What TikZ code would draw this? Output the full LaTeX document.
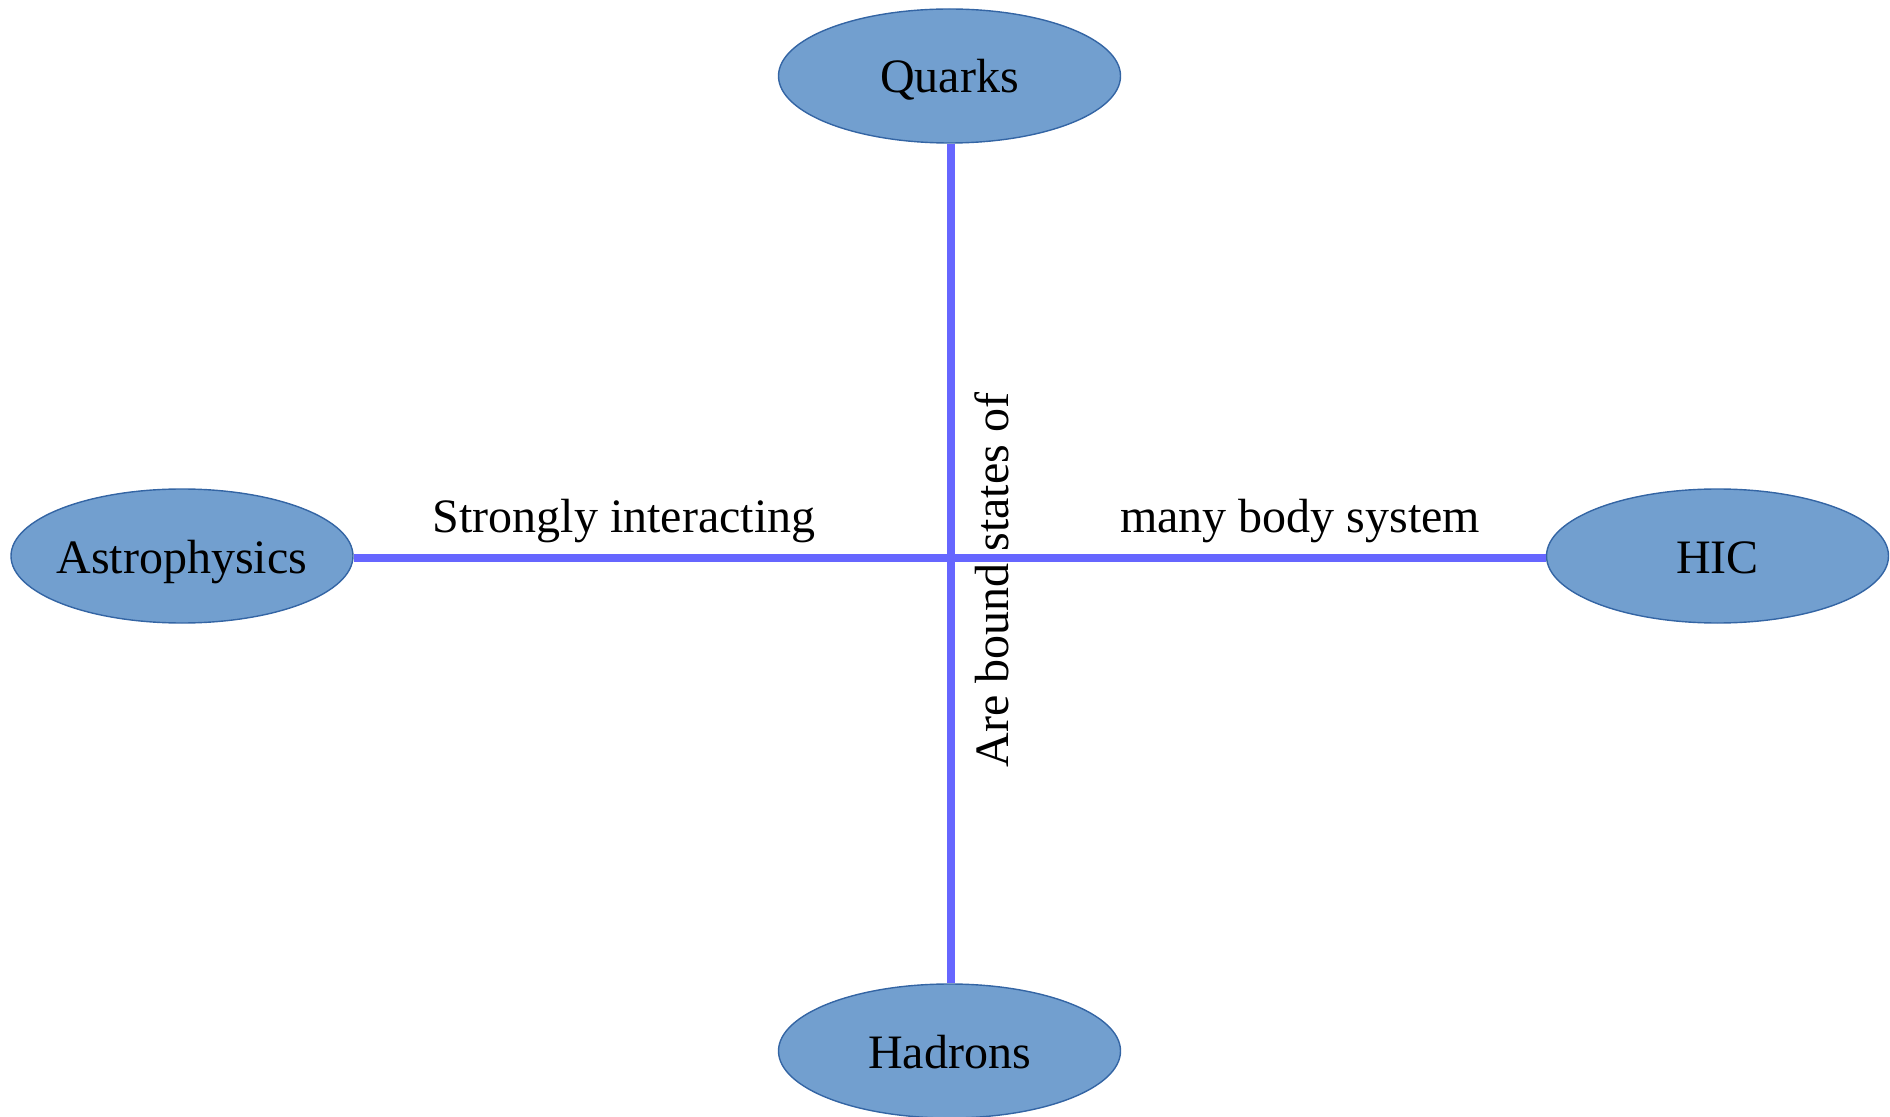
\documentclass[tikz,border=0pt]{standalone}
\usepackage{fontspec}
\setmainfont{Liberation Serif}
\usetikzlibrary{shapes.geometric}
\definecolor{ellfill}{HTML}{729FCF}
\definecolor{elldraw}{HTML}{3465A4}
\definecolor{linkcol}{HTML}{6666FF}
\newcommand{\topictext}[1]{\makebox[0pt]{\raisebox{-8.5pt}[0pt][0pt]{#1}}}
\tikzset{
  topic/.style={ellipse, fill=ellfill, draw=elldraw, line width=0.7pt,
    minimum width=171pt, minimum height=67pt, inner sep=0pt,
    font=\fontsize{24pt}{29pt}\selectfont},
  link/.style={draw=linkcol, line width=4pt},
  lbl/.style={font=\fontsize{24pt}{29pt}\selectfont, inner sep=0pt}
}
\begin{document}
\begin{tikzpicture}[x=0.5pt,y=-0.5pt]
\useasboundingbox (0,0) rectangle (1890,1117);
\node[topic] (quarks) at (949.5,76) {\topictext{Quarks}};
\node[topic] (hadrons) at (949.5,1051) {\topictext{Hadrons}};
\node[topic] (astro) at (182,556) {\topictext{Astrophysics}};
\node[topic] (hic) at (1717.5,556) {\topictext{HIC}};
\draw[link] ([xshift=0.8pt]quarks.south) -- ([xshift=0.8pt]hadrons.north);
\draw[link] ([yshift=-1pt]astro.east) -- ([yshift=-1pt]hic.west);
\node[lbl, anchor=base] (strong) at (624,532) {Strongly interacting};
\node[lbl, anchor=base] (many) at (1300,532) {many body system};
\node[lbl, rotate=90, anchor=base west] (bound) at (1008,768) {Are bound states of};
\end{tikzpicture}
\end{document}
